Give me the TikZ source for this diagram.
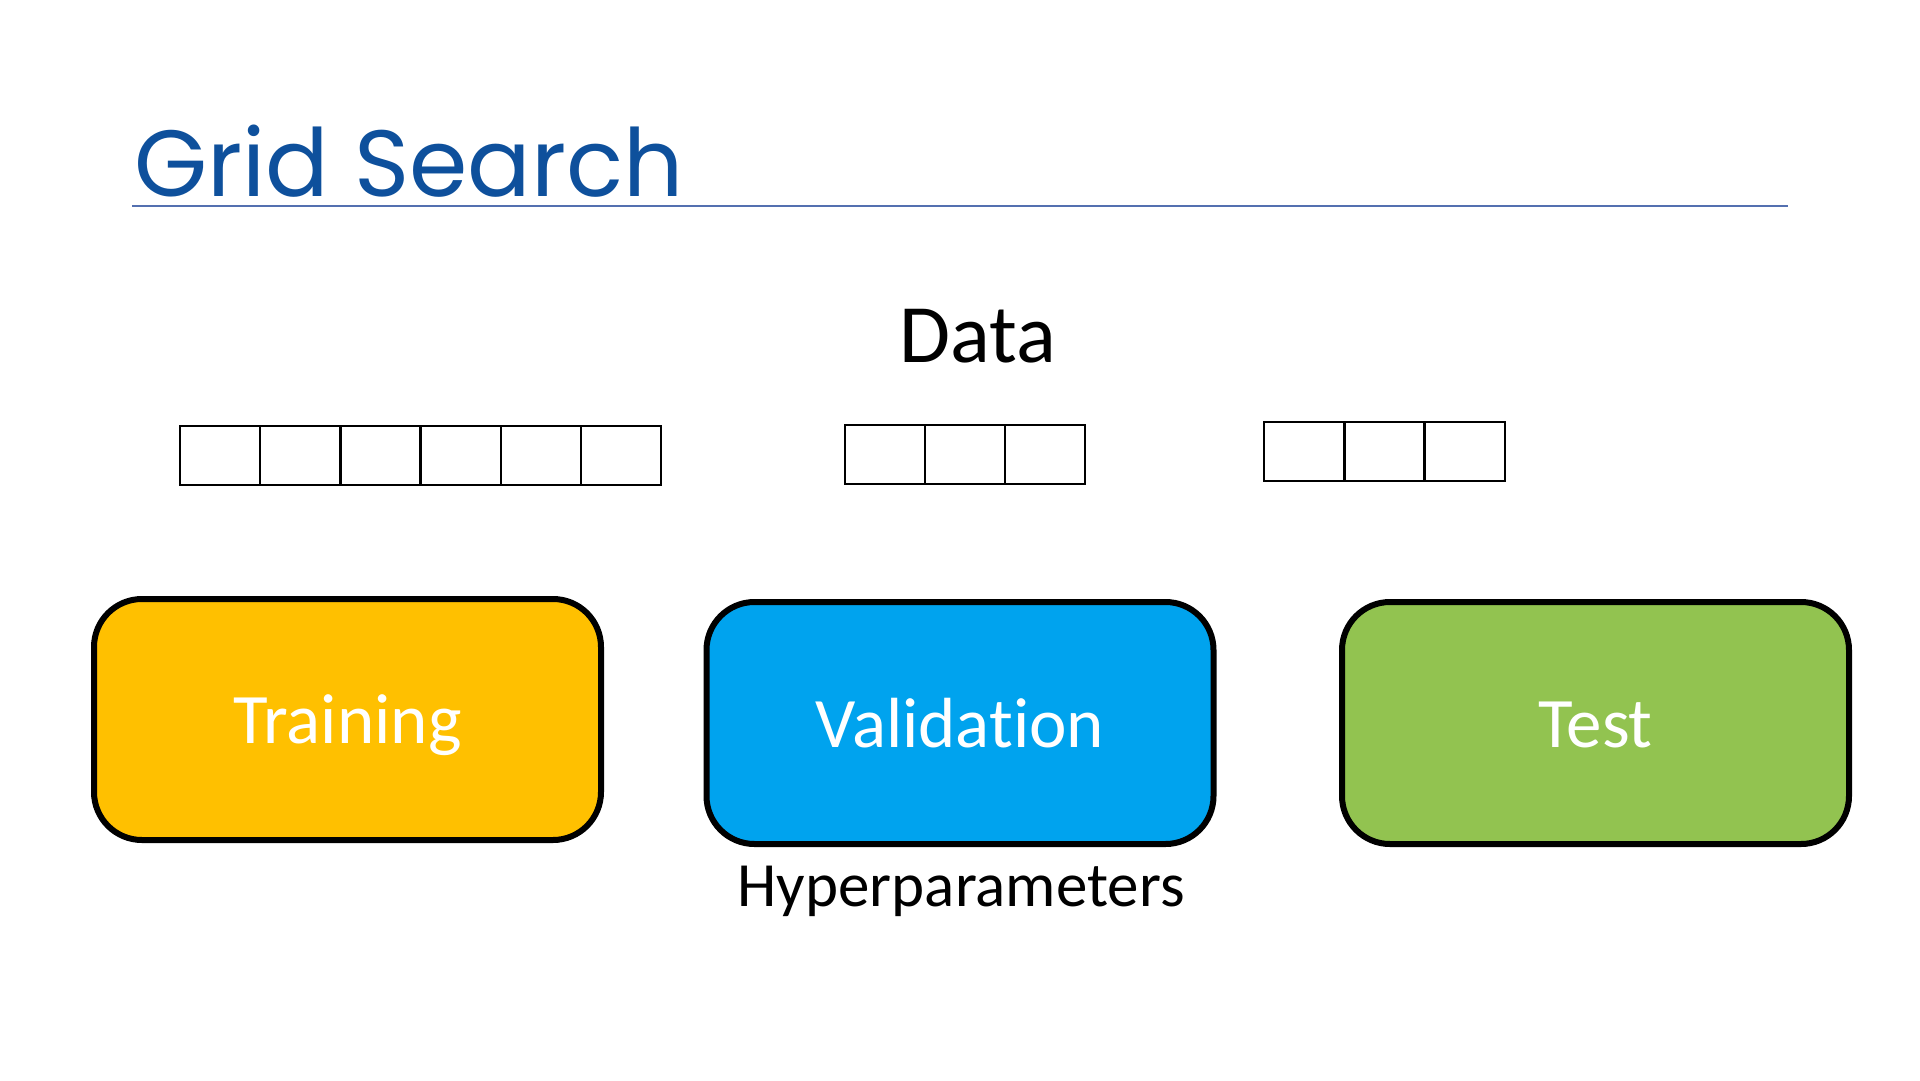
\documentclass[tikz,border=0pt]{standalone}
\usepackage{fontspec}
\setmainfont[Ligatures={NoCommon}]{Carlito}
\newfontfamily\titlefont{Poppins}
\definecolor{titleblue}{RGB}{14,80,156}
\definecolor{rulecol}{RGB}{84,112,176}
\definecolor{trainc}{RGB}{255,192,0}
\definecolor{valc}{RGB}{0,163,238}
\definecolor{testc}{RGB}{146,195,80}
\begin{document}
\begin{tikzpicture}[x=1pt,y=-1pt,
  cell/.style={draw=black,line width=2.5pt,fill=white,minimum width=80.2pt,minimum height=59pt,inner sep=0pt,outer sep=0pt},
  bigbox/.style={draw=black,line width=6pt,rounded corners=48pt,minimum width=507pt,minimum height=241pt,inner sep=0pt},
  boxtext/.style={text=white,font=\fontsize{71}{85}\selectfont,anchor=base,inner sep=0pt},
]
\useasboundingbox[fill=white] (0,0) rectangle (1920,1080);
% title
\node[anchor=base west,inner sep=0pt,text=titleblue,font=\titlefont\fontsize{94}{112}\selectfont] (title) at (134,196) {Grid Search};
\coordinate (rl) at (132,206);
\coordinate (rr) at (1788,206);
\draw[rulecol,line width=1.5pt] (rl) -- (rr);
% Data
\node[anchor=base,inner sep=0pt,font=\fontsize{83}{99}\selectfont] (data) at (978,362) {Data};
% row 1
\foreach \i in {0,...,5}{
  \node[cell] (a\i) at ({220.1+80.2*\i},455.5) {};
}
\foreach \i in {0,1,2}{
  \node[cell,minimum width=80pt] (b\i) at ({885+80*\i},454.5) {};
}
\foreach \i in {0,1,2}{
  \node[cell,minimum width=80.3pt] (c\i) at ({1304.2+80.3*\i},451.5) {};
}
% big boxes
\node[bigbox,fill=trainc] (train) at (347.5,719.5) {};
\node[bigbox,fill=valc,minimum height=242pt] (val) at (960,723) {};
\node[bigbox,fill=testc,minimum height=242pt] (test) at (1595.5,723) {};
\node[boxtext] (traint) at (347.5,743) {Training};
\node[boxtext] (valt) at (960,747) {Validation};
\node[boxtext] (testt) at (1595.5,747) {Test};
\node[anchor=base,inner sep=0pt,font=\fontsize{63}{76}\selectfont] (hyp) at (961,906) {Hyperparameters};
\end{tikzpicture}
\end{document}
